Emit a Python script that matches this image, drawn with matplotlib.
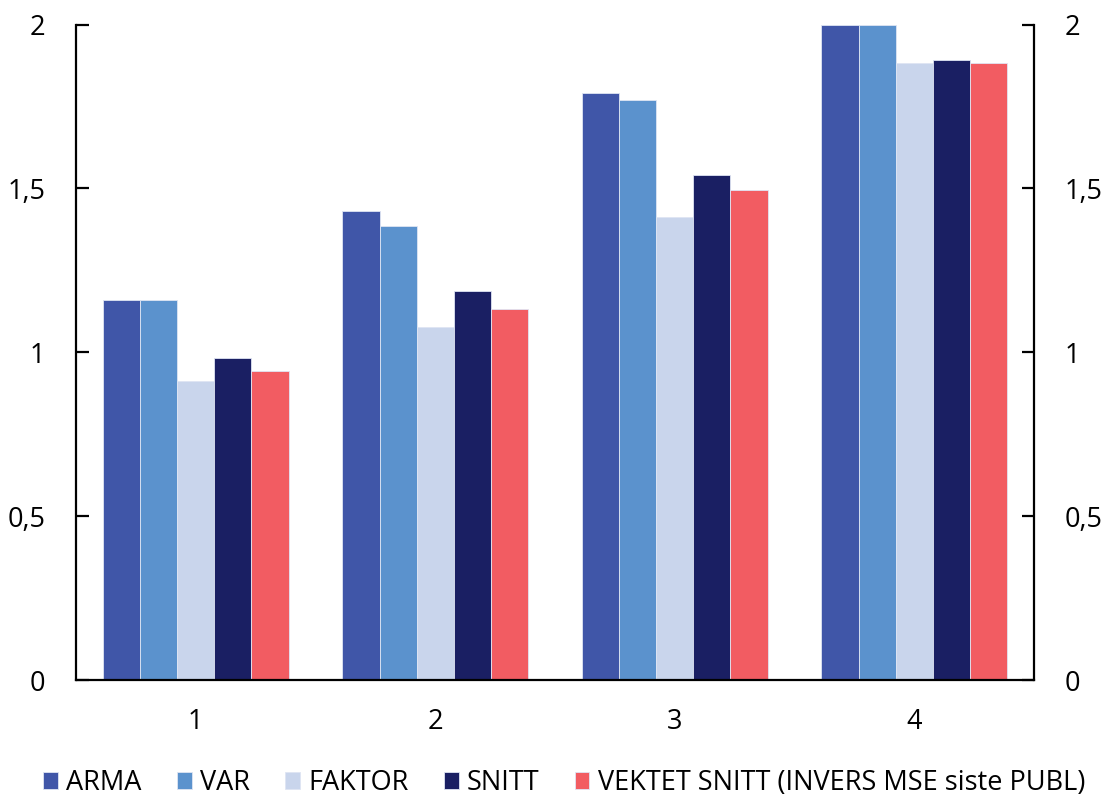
import matplotlib
matplotlib.use("Agg")
import matplotlib.pyplot as plt
import numpy as np

plt.rcParams['font.family'] = ['Open Sans', 'DejaVu Sans']

# Forecast horizons and error values per model
horizons = ["1", "2", "3", "4"]
series_names = ["ARMA", "VAR", "FAKTOR", "SNITT", "VEKTET SNITT (INVERS MSE siste PUBL)"]
arma = [1.16, 1.43, 1.79, 2.00]
var = [1.16, 1.386, 1.771, 2.00]
faktor = [0.913, 1.078, 1.414, 1.883]
snitt = [0.982, 1.188, 1.542, 1.893]
vektet = [0.943, 1.133, 1.496, 1.884]
y_ticks = [0, 0.5, 1, 1.5, 2]
y_tick_labels = ["0", "0,5", "1", "1,5", "2"]

colors = ["#4056A8", "#5B92CD", "#C9D5EC", "#1A1F63", "#F25C62"]
values = [arma, var, faktor, snitt, vektet]

fig = plt.figure(figsize=(11.04, 7.96), dpi=100)
ax = fig.add_axes([0.0688, 0.1457, 0.8678, 0.8235])

x = np.arange(1, len(horizons) + 1)
width = 0.155
for i, (name, vals, col) in enumerate(zip(series_names, values, colors)):
    offset = (i - 2) * width
    ax.bar(x + offset, vals, width, color=col, label=name,
           edgecolor="#dfe5f3", linewidth=0.6)

ax.set_xlim(0.5, 4.5)
ax.set_ylim(0, 2)
ax.set_xticks(x)
ax.set_xticklabels(horizons)
ax.set_yticks(y_ticks)
ax.set_yticklabels(y_tick_labels)

ax.spines["top"].set_visible(False)
for side in ["left", "right", "bottom"]:
    ax.spines[side].set_linewidth(1.6)

ax.tick_params(axis="y", which="both", direction="in", length=9, width=1.6,
               left=True, right=True, labelleft=True, labelright=True,
               labelsize=19.5, pad=22)
ax.tick_params(axis="x", length=0, labelsize=19.5, pad=20)

handles, labels = ax.get_legend_handles_labels()
fig.legend(handles, labels, loc="lower center", bbox_to_anchor=(0.511, -0.032),
           ncol=5, frameon=False, fontsize=19.5, handlelength=0.55,
           handleheight=0.55, handletextpad=0.3, columnspacing=1.3)

fig.savefig("out.png", dpi=100)
